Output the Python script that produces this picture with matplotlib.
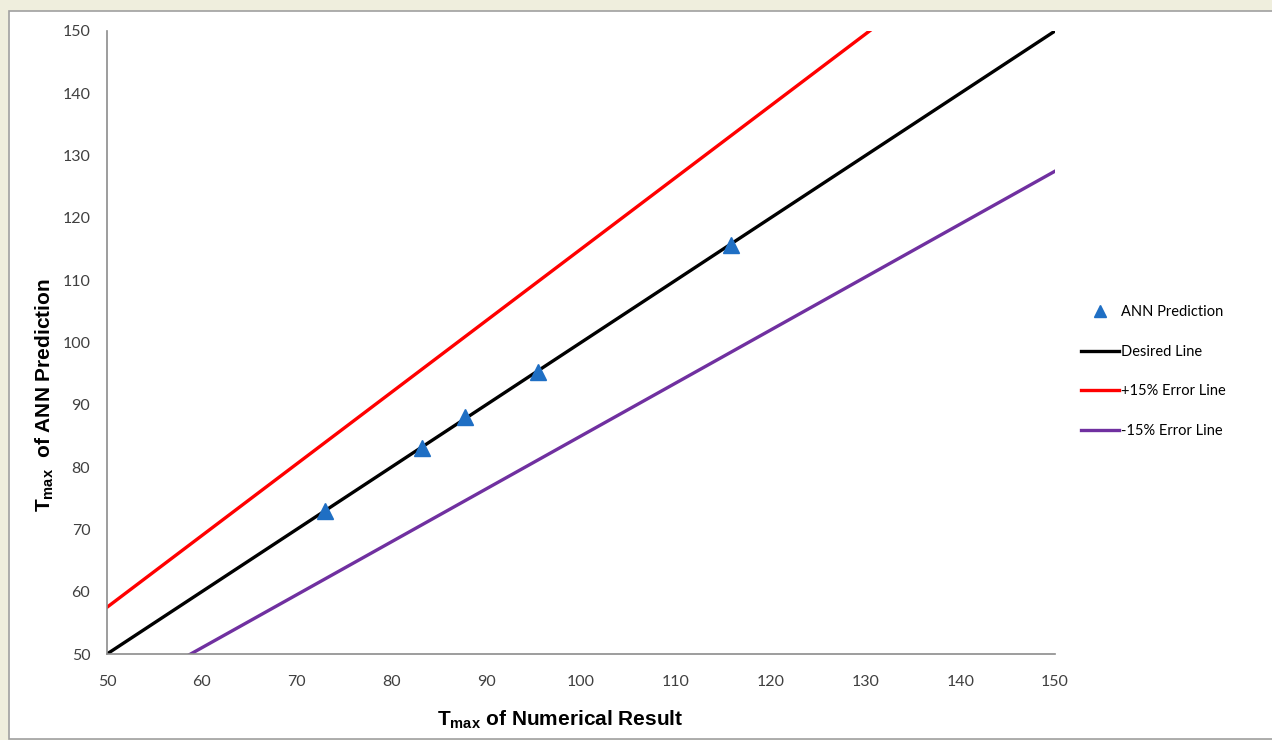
import matplotlib.pyplot as plt
from matplotlib.patches import Rectangle

plt.rcParams['mathtext.fontset'] = 'custom'
plt.rcParams['mathtext.bf'] = 'Liberation Sans:bold'
plt.rcParams['mathtext.rm'] = 'Liberation Sans'

# ANN predictions vs numerical results
numerical = [73.0, 83.2, 87.8, 95.5, 115.8]
predicted = [73.0, 83.0, 88.0, 95.2, 115.7]
line_x = [50, 150]
desired = [50, 150]
plus15 = [57.5, 172.5]
minus15 = [42.5, 127.5]
xticks = list(range(50, 151, 10))
yticks = list(range(50, 151, 10))

fig = plt.figure(figsize=(12.72, 7.40), dpi=100, facecolor='#efeedd')
panel = Rectangle((9 / 1272, 0.002), 1, 1 - 11 / 740 - 0.002, transform=fig.transFigure,
                  facecolor='white', edgecolor='#a0a0a0', lw=1.2, zorder=-10)
fig.add_artist(panel)

ax = fig.add_axes([107 / 1272, 1 - 654 / 740, (1055 - 107) / 1272, (654 - 31) / 740])
ax.set_facecolor('none')

ax.plot(numerical, predicted, '^', color='#1f6fc4', ms=11, label='ANN Prediction', zorder=5)
ax.plot(line_x, desired, color='black', lw=2.4, label='Desired Line')
ax.plot(line_x, plus15, color='#ff0000', lw=2.4, label='+15% Error Line')
ax.plot(line_x, minus15, color='#7030a0', lw=2.4, label='-15% Error Line')

ax.set_xlim(50, 150)
ax.set_ylim(50, 150)
ax.set_xticks(xticks)
ax.set_yticks(yticks)
for s in ['top', 'right']:
    ax.spines[s].set_visible(False)
for s in ['left', 'bottom']:
    ax.spines[s].set_color('#8c8c8c')
    ax.spines[s].set_linewidth(1.2)
ax.tick_params(axis='y', length=0, labelsize=11.5, labelcolor='#404040', pad=12)
ax.tick_params(axis='x', length=0, labelsize=11.5, labelcolor='#404040', pad=15)
for lab in ax.get_xticklabels() + ax.get_yticklabels():
    lab.set_fontfamily('Lato')

ax.set_xlabel(r'T$_{\mathbf{max}}$ of Numerical Result', fontsize=15, fontweight='bold',
              family='Liberation Sans')
ax.set_ylabel(r'T$_{\mathbf{max}}$  of ANN Prediction', fontsize=15, fontweight='bold',
              family='Liberation Sans')
ax.xaxis.set_label_coords((560 - 107) / 948, (654 - 708) / 623)
ax.yaxis.set_label_coords((56 - 107) / 948, (654 - 395) / 623)

leg = ax.legend(loc='upper left', bbox_to_anchor=(1068 / 1272, 1 - 292 / 740),
                bbox_transform=fig.transFigure, frameon=False, prop={'family': 'Lato', 'size': 10.5},
                handlelength=2.6, handletextpad=0.15, labelspacing=1.75, markerscale=0.75)

fig.savefig('out.png', dpi=100, facecolor=fig.get_facecolor())
